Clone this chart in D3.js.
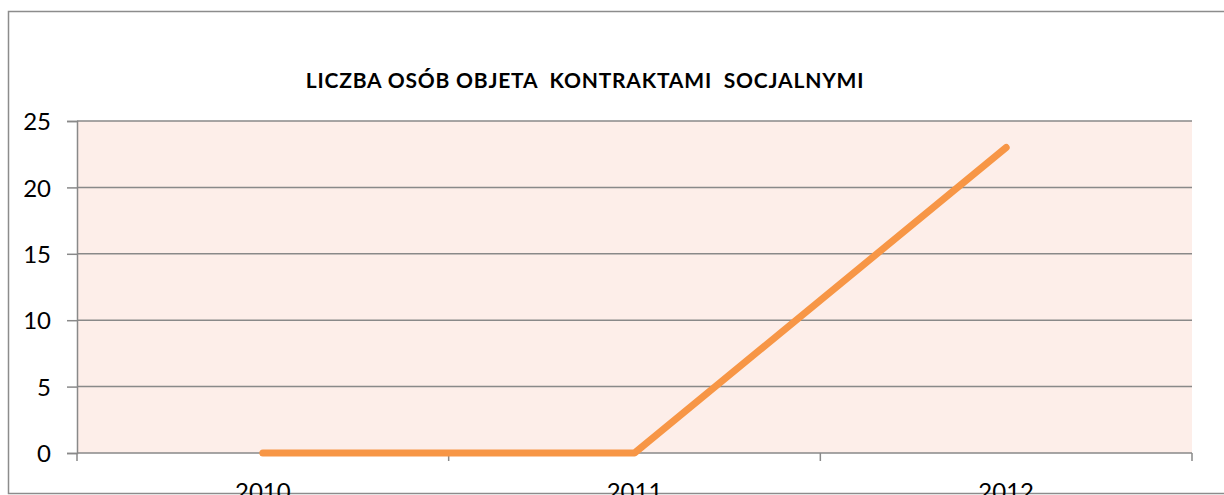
<!DOCTYPE html>
<html>
<head>
<meta charset="utf-8">
<script src="https://cdn.jsdelivr.net/npm/d3@7"></script>
<style>
	body { margin: 0; background: #fff; }
	svg { display: block; font-family: Lato, "Open Sans", sans-serif; }
</style>
</head>
<body>
<svg id="chart" width="1224" height="495"></svg>
<script>
// Data
const years = ['2010', '2011', '2012'];
const people = [0, 0, 23];
const yTicks = [0, 5, 10, 15, 20, 25];
const title = 'LICZBA OSÓB OBJETA  KONTRAKTAMI  SOCJALNYMI';

const svg = d3.select('#chart');

// Plot area
const plotLeft = 77, plotRight = 1192, plotTop = 121, plotBottom = 453;

const xScale = d3.scaleBand()
	.domain(years)
	.range([plotLeft, plotRight]);

const yScale = d3.scaleLinear()
	.domain([0, 25])
	.range([plotBottom, plotTop]);

// Outer chart frame (runs off right and bottom)
svg.append('rect')
	.attr('x', 8.5).attr('y', 11.5)
	.attr('width', 1240).attr('height', 482)
	.attr('fill', 'none')
	.attr('stroke', '#8c8c8c')
	.attr('stroke-width', 1.5);

// Plot background
svg.append('rect')
	.attr('x', plotLeft).attr('y', plotTop)
	.attr('width', plotRight - plotLeft).attr('height', plotBottom - plotTop)
	.attr('fill', '#fdeee9');

// Grid lines
svg.append('g')
	.selectAll('line')
	.data(yTicks.filter(d => d > 0))
	.enter()
	.append('line')
		.attr('x1', plotLeft).attr('x2', plotRight)
		.attr('y1', d => yScale(d)).attr('y2', d => yScale(d))
		.attr('stroke', '#898989')
		.attr('stroke-width', 1.5);

// Y axis
const yAxis = svg.append('g')
	.attr('transform', `translate(${plotLeft},0)`)
	.call(d3.axisLeft(yScale).tickValues(yTicks).tickSize(10).tickPadding(16));
yAxis.select('.domain').attr('stroke', '#898989').attr('stroke-width', 1.5);
yAxis.selectAll('line').attr('stroke', '#898989').attr('stroke-width', 1.5);
yAxis.selectAll('text')
	.attr('font-family', 'Lato, sans-serif')
	.attr('font-size', 24)
	.attr('fill', '#000')
	.attr('dy', '0.36em');

// X axis - ticks sit on the band edges
const xAxis = svg.append('g')
	.attr('transform', `translate(0,${plotBottom})`);
xAxis.append('line')
	.attr('x1', plotLeft).attr('x2', plotRight)
	.attr('stroke', '#898989').attr('stroke-width', 1.5);
const edges = years.map(d => xScale(d)).concat([plotRight]);
xAxis.selectAll('.edge')
	.data(edges)
	.enter()
	.append('line')
		.attr('class', 'edge')
		.attr('x1', d => d).attr('x2', d => d)
		.attr('y1', 0).attr('y2', 8)
		.attr('stroke', '#898989').attr('stroke-width', 1.5);
xAxis.selectAll('.lbl')
	.data(years)
	.enter()
	.append('text')
		.attr('class', 'lbl')
		.attr('x', d => xScale(d) + xScale.bandwidth() / 2)
		.attr('y', 47)
		.attr('text-anchor', 'middle')
		.attr('font-size', 24)
		.text(d => d);

// The line
const line = d3.line()
	.x((d, i) => xScale(years[i]) + xScale.bandwidth() / 2)
	.y(d => yScale(d));

svg.append('path')
	.datum(people)
	.attr('d', line)
	.attr('fill', 'none')
	.attr('stroke', '#f79646')
	.attr('stroke-width', 7)
	.attr('stroke-linecap', 'round')
	.attr('stroke-linejoin', 'round');

// Title
svg.append('text')
	.attr('x', 585).attr('y', 88)
	.attr('text-anchor', 'middle')
	.attr('font-size', 21)
	.attr('font-weight', 'bold')
	.attr('letter-spacing', 0.8)
	.style('white-space', 'pre')
	.text(title);
</script>
</body>
</html>
